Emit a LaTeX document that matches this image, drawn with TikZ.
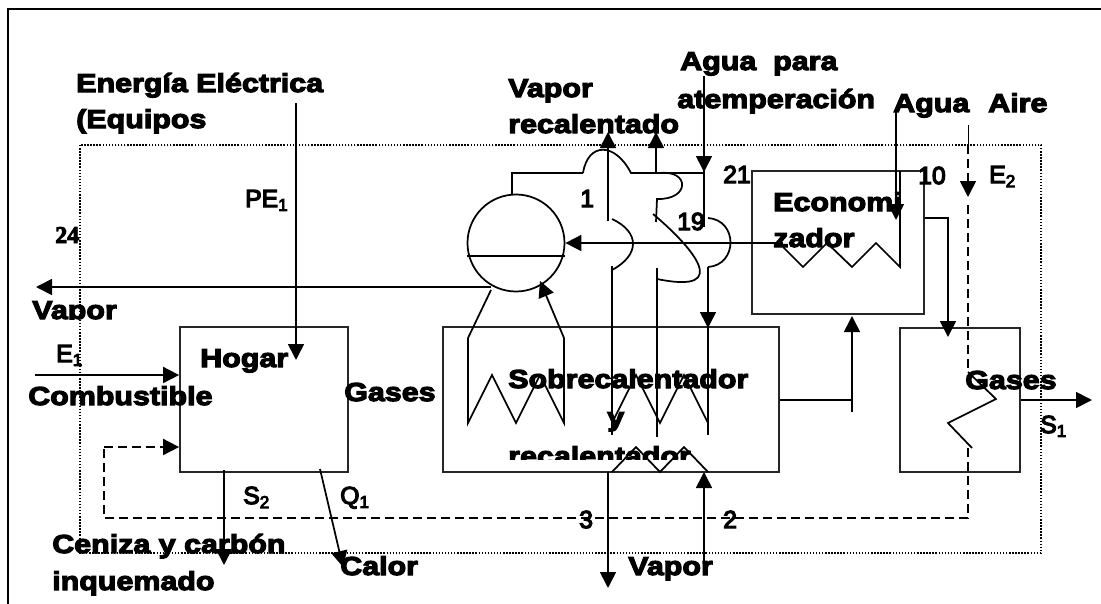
\documentclass[tikz,border=0pt]{standalone}
\usepackage{fontspec}
\setmainfont{Liberation Sans}
\newfontfamily\fatfont[FakeStretch=1.17,FakeBold=4.5]{Liberation Sans Bold}
\newfontfamily\medfont[FakeBold=5]{Liberation Sans}
\newfontfamily\numfont[FakeBold=4]{Liberation Serif Bold}
\usetikzlibrary{arrows.meta,calc}

\tikzset{
  tuberia/.style={line width=1.3pt},
  flecha/.style={line width=1.3pt,-{Triangle[length=12pt,width=12pt]}},
  equipo/.style={rectangle,draw=black!85,line width=1.3pt,inner sep=0pt},
  retorno/.style={line width=1.3pt,dash pattern=on 6.5pt off 4pt},
  titulo/.style={anchor=base west,inner sep=0pt,font=\fontsize{19.5}{20}\selectfont\fatfont},
  marca/.style={anchor=base west,inner sep=0pt,font=\fontsize{18.5}{19}\selectfont\medfont}
}

\begin{document}
\begin{tikzpicture}[x=0.75pt,y=-0.75pt]
\useasboundingbox (0,0) rectangle (1101,604);

  % marco
\draw[line width=1.6pt] (8,604) -- (8,9) -- (1101,9);
\draw[line width=1.1pt,dash pattern=on 1.1pt off 1.2pt] (80,145) rectangle (1041,553);

  % equipos
  \node[equipo,minimum width=168*0.75pt,minimum height=145*0.75pt] (hogar) at (264,399.5) {};
  \node[equipo,minimum width=336*0.75pt,minimum height=145*0.75pt] (sobre) at (611,399.5) {};
  \node[equipo,minimum width=172*0.75pt,minimum height=143*0.75pt] (econo) at (838,242.5) {};
  \node[equipo,minimum width=120*0.75pt,minimum height=144*0.75pt] (aire) at (960,400) {};
  \node[circle,draw=black,line width=1.3pt,minimum size=97*0.75pt,inner sep=0pt] (domo) at (516,243) {};
  \coordinate (cl) at (467,256);
  \coordinate (cr) at (565,256);
  \draw[tuberia] (cl) -- (cr);

  % puntos de las tuberias
  \coordinate (a) at (583,173);
  \coordinate (b) at (631,173);
  \coordinate (c) at (704,173);
  \coordinate (d) at (660,173);
  \coordinate (e) at (657,199);
  \coordinate (f) at (656,222);
  \coordinate (g) at (612,219);
  \coordinate (h) at (612,270);
  \coordinate (i) at (653,214);
  \coordinate (j) at (657,279);
  \coordinate (k) at (708,218);
  \coordinate (l) at (708,267);
  \coordinate (m) at (704,76);
  \coordinate (n) at (704,227);

  % domo
\draw[tuberia] (512,195) -- (512,173) -- (a);
\draw[tuberia] (a) .. controls (588,142) and (615,142) .. (b) -- (c);
\draw[tuberia] (d) .. controls (690,170) and (690,200) .. (e) -- (f);
\draw[flecha] (608,221) -- (608,132);
\draw[flecha] (656,173) -- (656,132);
\draw[flecha] (m) -- (704,172);
\draw[tuberia] (704,165) -- (n);
\draw[tuberia] (g) .. controls (640,232) and (640,255) .. (h);
\draw[tuberia] (i) .. controls (690,245) and (735,295) .. (j);
\draw[tuberia] (k) .. controls (738,220) and (738,265) .. (l);
\draw[flecha] (l) -- (708,328);

  % serpentines
\draw[tuberia] (612,266) -- (612,435);
\draw[tuberia] (657,268) -- (657,437);
\draw[tuberia] (708,320) -- (708,435);
\draw[tuberia] (612,423) -- ++(24,-48) -- ++(24,48) -- ++(24,-48) -- ++(24,48);
\draw[tuberia] (468,338) -- (468,423) -- ++(24,-48) -- ++(24,48) -- ++(24,-48) -- ++(24,48) -- (564,338);
\draw[tuberia] (491,290) -- (468,338);
\draw[flecha] (564,338) -- (540,281);
\draw[tuberia] (612,472) -- ++(24,-25) -- ++(24,25) -- ++(24,-25) -- ++(24,25);

  % economizador
\draw[flecha] (783,243) -- (domo.east);
\draw[tuberia] (783,247) -- ++(20,20) -- ++(24,-24) -- ++(25,24) -- ++(24,-24) -- ++(24,24) -- (900,171);
\draw[flecha] (896,110) -- (896,220);
\draw[flecha] (econo.east |- 0,218) -- (948,218) -- (948,337);
\draw[tuberia] (sobre.east |- 0,400) -- (852,400);
\draw[flecha] (852,412) -- (852,316);

  % calentador de aire
\draw[line width=0.7pt] (968,125) -- (968,145);
\draw[retorno,-{Triangle[length=12pt,width=12pt]}] (968,145) -- (968,197);
\draw[retorno] (968,205) -- (968,372);
\draw[tuberia] (968,372) -- (996,399) -- (948,423) -- (972,448);
\draw[retorno] (968,448) -- (968,518) -- (104,518) -- (104,447);
\draw[retorno,-{Triangle[length=12pt,width=12pt]}] (104,447) -- (hogar.west |- 0,447);
\draw[flecha] (aire.east |- 0,400) -- (1092,400);

  % hogar
\draw[flecha] (296,103) -- (296,360);
\draw[flecha] (35,375) -- (hogar.west |- 0,375);
\draw[flecha] (491,287) -- (36,287);
\draw[flecha] (224,470) -- (224,565);
\draw[flecha] (320,469) -- (343,567);
\draw[flecha] (608,472) -- (608,588);
\draw[flecha] (704,563) -- (704,472);

  % textos
\foreach \n/\x/\y/\t in {tE/76/92/{Energía Eléctrica},tQ/76/128/{(Equipos},tV/508/97/{Vapor},
  tR/508/133/{recalentado},tA/680/70/{Agua\ \ para},tT/677/108/{atemperación},tW/893/112/{Agua},
  tI/988/112/{Aire},tC/773/211/{Economi},tZ/773/247/{zador},tG/965/389/{Gases},tH/200/367/{Hogar},
  tS/344/401/{Gases},tB/28/405/{Combustible},tO/508/388/{Sobrecalentador},tY/607/426/{y},
  tN/52/553/{Ceniza y carbón},tM/52/590/{inquemado},tL/340/575/{Calor},tP/628/575/{Vapor}}
{
  \node[titulo] (\n) at (\x,\y) {\t};
}
  % recortados abajo
\begin{scope}
  \clip (20,290) rectangle (200,319);
  \node[titulo] (tD) at (32,319) {Vapor};
\end{scope}
\begin{scope}
  \clip (500,440) rectangle (720,459);
  \node[titulo] (tU) at (508,465) {recalentador};
\end{scope}

\foreach \n/\x/\y/\t in {mP/245/207/{PE\textsubscript{1}},mE/989/183/{E\textsubscript{2}},mS/1040/433/{S\textsubscript{1}},
  mF/56/362/{E\textsubscript{1}},mC/243/504/{S\textsubscript{2}},mQ/340/504/{Q\textsubscript{1}},
  nA/580/207/1,nB/677/230/19,nC/723/183/21,nD/918/184/10,nF/579/528/3,nG/723/528/2}
{
  \node[marca] (\n) at (\x,\y) {\t};
}
  \node[anchor=base west,inner sep=0pt,font=\fontsize{18}{18}\selectfont\numfont] (nH) at (55,243) {24};

\end{tikzpicture}
\end{document}
